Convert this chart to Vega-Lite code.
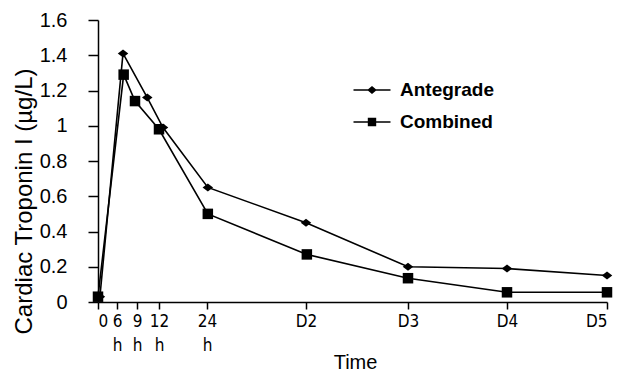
{
  "$schema": "https://vega.github.io/schema/vega-lite/v6.json",
  "width": 509,
  "height": 282,
  "autosize": {"type": "none"},
  "padding": {"left": 98, "top": 20, "right": 17, "bottom": 71},
  "background": "white",
  "config": {
    "view": {"stroke": null},
    "font": "Liberation Sans",
    "axis": {
      "domainColor": "black",
      "tickColor": "black",
      "labelColor": "black",
      "titleColor": "black",
      "grid": false,
      "domainWidth": 1.5,
      "tickWidth": 1.5,
      "labelOverlap": false,
      "titleFontWeight": "normal",
      "titleFont": "Liberation Sans"
    }
  },
  "data": {
    "values": [
      {"series": "Antegrade", "hour": 0.6, "value": 0.03},
      {"series": "Antegrade", "hour": 6.9, "value": 1.41},
      {"series": "Antegrade", "hour": 10.4, "value": 1.16},
      {"series": "Antegrade", "hour": 13, "value": 0.99},
      {"series": "Antegrade", "hour": 24.2, "value": 0.65},
      {"series": "Antegrade", "hour": 48, "value": 0.45},
      {"series": "Antegrade", "hour": 72, "value": 0.2},
      {"series": "Antegrade", "hour": 96, "value": 0.19},
      {"series": "Antegrade", "hour": 120, "value": 0.15},
      {"series": "Combined", "hour": 0, "value": 0.03},
      {"series": "Combined", "hour": 7, "value": 1.29},
      {"series": "Combined", "hour": 8.7, "value": 1.14},
      {"series": "Combined", "hour": 12, "value": 0.98},
      {"series": "Combined", "hour": 24.2, "value": 0.5},
      {"series": "Combined", "hour": 48.2, "value": 0.27},
      {"series": "Combined", "hour": 72, "value": 0.135},
      {"series": "Combined", "hour": 96, "value": 0.055},
      {"series": "Combined", "hour": 120, "value": 0.055}
    ]
  },
  "encoding": {
    "x": {
      "field": "hour",
      "type": "quantitative",
      "scale": {
        "domain": [0, 6, 9, 12, 24, 48, 72, 96, 120],
        "range": [0, 19, 39, 61, 109, 208, 310, 409, 509]
      },
      "axis": {
        "values": [0, 6, 9, 12, 24, 48, 72, 96, 120],
        "labelExpr": "datum.value == 0 ? '0' : (datum.value <= 24 ? [datum.label, 'h'] : 'D' + (datum.value / 24))",
        "labelFont": "Liberation Sans Narrow, DejaVu Sans Condensed, Liberation Sans",
        "labelFontSize": 17,
        "labelLineHeight": 24,
        "tickSize": 7,
        "labelPadding": 4,
        "title": "Time",
        "titleFontSize": 20,
        "titleY": 66,
        "titleX": 257,
        "titleBaseline": "alphabetic"
      }
    },
    "y": {
      "field": "value",
      "type": "quantitative",
      "scale": {"domain": [0, 1.6]},
      "axis": {
        "values": [0, 0.2, 0.4, 0.6, 0.8, 1, 1.2, 1.4, 1.6],
        "format": ".1~f",
        "labelFontSize": 20,
        "tickSize": 10,
        "labelPadding": 21,
        "title": "Cardiac Troponin I (µg/L)",
        "titleFontSize": 24,
        "titleX": -62,
        "titleY": 181
      }
    }
  },
  "resolve": {"scale": {"shape": "independent"}, "legend": {"shape": "independent"}},
  "layer": [
    {
      "mark": {"type": "line", "color": "black", "strokeWidth": 1.6},
      "encoding": {"detail": {"field": "series"}}
    },
    {
      "mark": {"type": "point", "filled": true, "color": "black", "opacity": 1, "size": 100},
      "encoding": {
        "shape": {
          "field": "series",
          "type": "nominal",
          "scale": {
            "domain": ["Antegrade", "Combined"],
            "range": ["M-1.05,0L0,-0.8L1.05,0L0,0.8Z", "M-1.05,-1.05H1.05V1.05H-1.05Z"]
          },
          "legend": null
        }
      }
    },
    {
      "mark": {"type": "point", "filled": true, "color": "black", "opacity": 0, "size": 400},
      "encoding": {
        "shape": {
          "field": "series",
          "type": "nominal",
          "scale": {
            "domain": ["Antegrade", "Combined"],
            "range": [
              "M-1.85,-0.075H1.85V0.075H-1.85ZM-0.48,0L0,-0.4L0.48,0L0,0.4Z",
              "M-1.85,-0.075H1.85V0.075H-1.85ZM-0.42,-0.42H0.42V0.42H-0.42Z"
            ]
          },
          "legend": {
            "orient": "none",
            "legendX": 263,
            "legendY": 59,
            "title": null,
            "padding": 0,
            "symbolSize": 400,
            "symbolFillColor": "black",
            "symbolOpacity": 1,
            "labelFont": "Liberation Sans",
            "labelFontSize": 19,
            "labelFontWeight": "bold",
            "labelColor": "black",
            "labelOffset": 17,
            "rowPadding": 11
          }
        }
      }
    }
  ]
}
